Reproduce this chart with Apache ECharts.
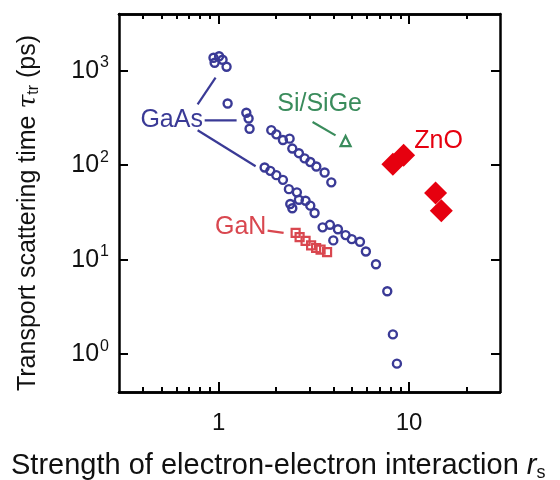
<!DOCTYPE html>
<html><head><meta charset="utf-8">
<script src="https://cdn.jsdelivr.net/npm/echarts@6/dist/echarts.min.js"></script>
<style>html,body{margin:0;padding:0;background:#fff}#c{width:560px;height:480px}</style>
</head><body><div id="c"></div>
<script>
// ---- data (r_s, tau_tr in ps) ----
const gaasX = [0.953,1.006,1.049,1.101,0.94,1.115,1.398,1.437,1.454,
  1.890,2.009,2.176,2.359,2.437,2.639,2.828,3.029,3.258,3.601,3.905,
  1.744,1.868,2.009,2.176,2.339,2.576,2.639,2.861,3.029,3.19,2.378,2.437,
  3.515,3.84,4.23,4.0,4.64,5.0,5.52,5.93,6.70,7.68,8.22,8.63];
const gaasY = [1213,1422,1306,1102,1371,450,359,312,243,
  235,212,185,191,150,134,118,108,96.9,83.8,65.8,
  94.6,87.1,78.5,70.0,55.8,51.6,43.1,42.1,37.3,31.2,38.8,35.0,
  22.0,23.4,21.0,16.0,18.2,16.5,15.5,12.2,8.94,4.64,1.62,0.794];
const ganX = [2.537,2.662,2.861,3.059,3.25,3.43,3.71];
const ganY = [19.2,17.3,15.85,14.2,13.3,12.8,12.05];
const siX = [4.64];
const siY = [180];
const znoX = [8.22,9.36,13.77,14.76];
const znoY = [102.4,127.4,50.7,33.0];

const xTicks = [1, 10];
const xTickLabels = ['1', '10'];
const xMinorTicks = [0.4,0.5,0.6,0.7,0.8,0.9,2,3,4,5,6,7,8,9,20];
const yTicks = [1, 10, 100, 1000];
const yTickExp = ['0', '1', '2', '3'];

// annotation labels and leader lines (data space)
const labelNames = ['GaAs', 'Si/SiGe', 'GaN', 'ZnO'];
const labelX = [0.567, 3.39, 1.305, 14.29];
const labelY = [298, 439, 22.2, 179];
const gaasLeaders = [[[0.776,439],[0.964,844]], [[0.845,298],[1.243,298]], [[0.776,234],[1.564,97.6]]];
const siLeader = [[3.114,286],[4.11,207]];
const ganLeader = [[1.808,20.3],[2.194,19.2]];

// ---- styles ----
const FONT = "'Liberation Sans', Arial, sans-serif";
const C_GAAS = '#3a3a96', C_GAN = '#d9474f', C_SI = '#3a8c5c', C_ZNO = '#e6000f';
const labelColors = [C_GAAS, C_SI, C_GAN, C_ZNO];
const zip = (a, b) => a.map((v, i) => [v, b[i]]);
const gridRect = {left: 119, right: 60, top: 14, bottom: 88};

function xAxisBase(pos, gridIndex, ticks, len, showLabel) {
  return {
    type: 'log', logBase: 10, min: 0.3, max: 30, position: pos, gridIndex: gridIndex,
    axisLine: {show: true, lineStyle: {color: '#000', width: 2.5}},
    axisTick: {show: true, inside: true, length: len, customValues: ticks, lineStyle: {color: '#000', width: 2}},
    axisLabel: showLabel ? {show: true, customValues: xTicks, margin: 19, fontSize: 24, fontFamily: FONT, color: '#111',
      formatter: v => xTickLabels[xTicks.findIndex(t => Math.abs(t - v) < 1e-6 * t)] || ''} : {show: false},
    splitLine: {show: false}, minorTick: {show: false}
  };
}
function yAxisBase(pos, showLabel, show) {
  return {
    type: 'log', logBase: 10, min: 0.398, max: 3981, position: pos, show: show,
    axisLine: {show: true, lineStyle: {color: '#000', width: 2.5}},
    axisTick: {show: true, inside: true, length: 9, customValues: yTicks, lineStyle: {color: '#000', width: 2}},
    axisLabel: showLabel ? {show: true, customValues: yTicks, margin: 10, fontFamily: FONT, color: '#111',
      formatter: v => {
        const i = yTicks.findIndex(t => Math.abs(t - v) < 1e-6 * t);
        return '{b|10}{s|' + yTickExp[i] + '}';
      },
      rich: {b: {fontSize: 25, fontFamily: FONT, color: '#111'}, s: {fontSize: 16, fontFamily: FONT, color: '#111', padding: [0, 0, 16, 1]}}
    } : {show: false},
    splitLine: {show: false}
  };
}

const series = [];
series.push({type: 'scatter', xAxisIndex: 0, yAxisIndex: 0, data: zip(gaasX, gaasY), symbol: 'circle', symbolSize: 8,
  itemStyle: {color: 'rgba(0,0,0,0)', borderColor: C_GAAS, borderWidth: 2.4, opacity: 1}, z: 5});
series.push({type: 'scatter', xAxisIndex: 0, yAxisIndex: 0, data: zip(ganX, ganY), symbol: 'rect', symbolSize: 8,
  itemStyle: {color: 'rgba(0,0,0,0)', borderColor: C_GAN, borderWidth: 2.2, opacity: 1}, z: 5});
series.push({type: 'scatter', xAxisIndex: 0, yAxisIndex: 0, data: zip(siX, siY), symbol: 'triangle', symbolSize: 10,
  itemStyle: {color: 'rgba(0,0,0,0)', borderColor: C_SI, borderWidth: 2.2, opacity: 1}, z: 5});
series.push({type: 'scatter', xAxisIndex: 0, yAxisIndex: 0, data: zip(znoX, znoY), symbol: 'diamond', symbolSize: 23,
  itemStyle: {color: C_ZNO, opacity: 1}, z: 5});
gaasLeaders.forEach(seg => series.push({type: 'line', data: seg, symbol: 'none', silent: true,
  lineStyle: {color: C_GAAS, width: 2.2}, z: 4}));
series.push({type: 'line', data: siLeader, symbol: 'none', silent: true, lineStyle: {color: C_SI, width: 2.2}, z: 4});
series.push({type: 'line', data: ganLeader, symbol: 'none', silent: true, lineStyle: {color: C_GAN, width: 2.2}, z: 4});
series.push({type: 'scatter', data: labelNames.map((n, i) => ({name: n, value: [labelX[i], labelY[i]],
    label: {color: labelColors[i]}})),
  symbolSize: 0.1, itemStyle: {color: 'rgba(0,0,0,0)', opacity: 1}, silent: true, z: 6,
  label: {show: true, position: 'inside', formatter: p => p.name, fontSize: 25, fontFamily: FONT, opacity: 1}});

const chart = echarts.init(document.getElementById('c'), null, {renderer: 'canvas'});
chart.setOption({
  animation: false,
  backgroundColor: '#fff',
  grid: [Object.assign({}, gridRect), Object.assign({}, gridRect)],
  xAxis: [
    xAxisBase('bottom', 0, xTicks, 10, true),
    xAxisBase('top', 0, xTicks, 10, false),
    xAxisBase('bottom', 1, xMinorTicks, 5, false),
    xAxisBase('top', 1, xMinorTicks, 5, false)
  ],
  yAxis: [
    Object.assign(yAxisBase('left', true, true), {gridIndex: 0}),
    Object.assign(yAxisBase('right', false, true), {gridIndex: 0}),
    Object.assign(yAxisBase('left', false, false), {gridIndex: 1})
  ],
  series: series,
  graphic: [
    {type: 'text', x: 28, y: 213, rotation: Math.PI / 2,
      style: {text: '{a|Transport scattering time }{i|τ}{u|tr}{a| (ps)}', align: 'center', verticalAlign: 'middle',
        rich: {a: {fontSize: 25, fontFamily: FONT, fill: '#111'},
               i: {fontSize: 25, fontFamily: "'DejaVu Serif', serif", fontStyle: 'italic', fill: '#111'},
               u: {fontSize: 16, fontFamily: FONT, fill: '#111', padding: [12, 0, 0, 0]}}}},
    {type: 'text', x: 11, y: 466,
      style: {text: '{a|Strength of electron-electron interaction }{i|r}{u|s}', align: 'left', verticalAlign: 'middle',
        rich: {a: {fontSize: 29, fontFamily: FONT, fill: '#111'},
               i: {fontSize: 29, fontFamily: FONT, fontStyle: 'italic', fill: '#111'},
               u: {fontSize: 18, fontFamily: FONT, fill: '#111', padding: [14, 0, 0, 0]}}}}
  ]
});
</script></body></html>
